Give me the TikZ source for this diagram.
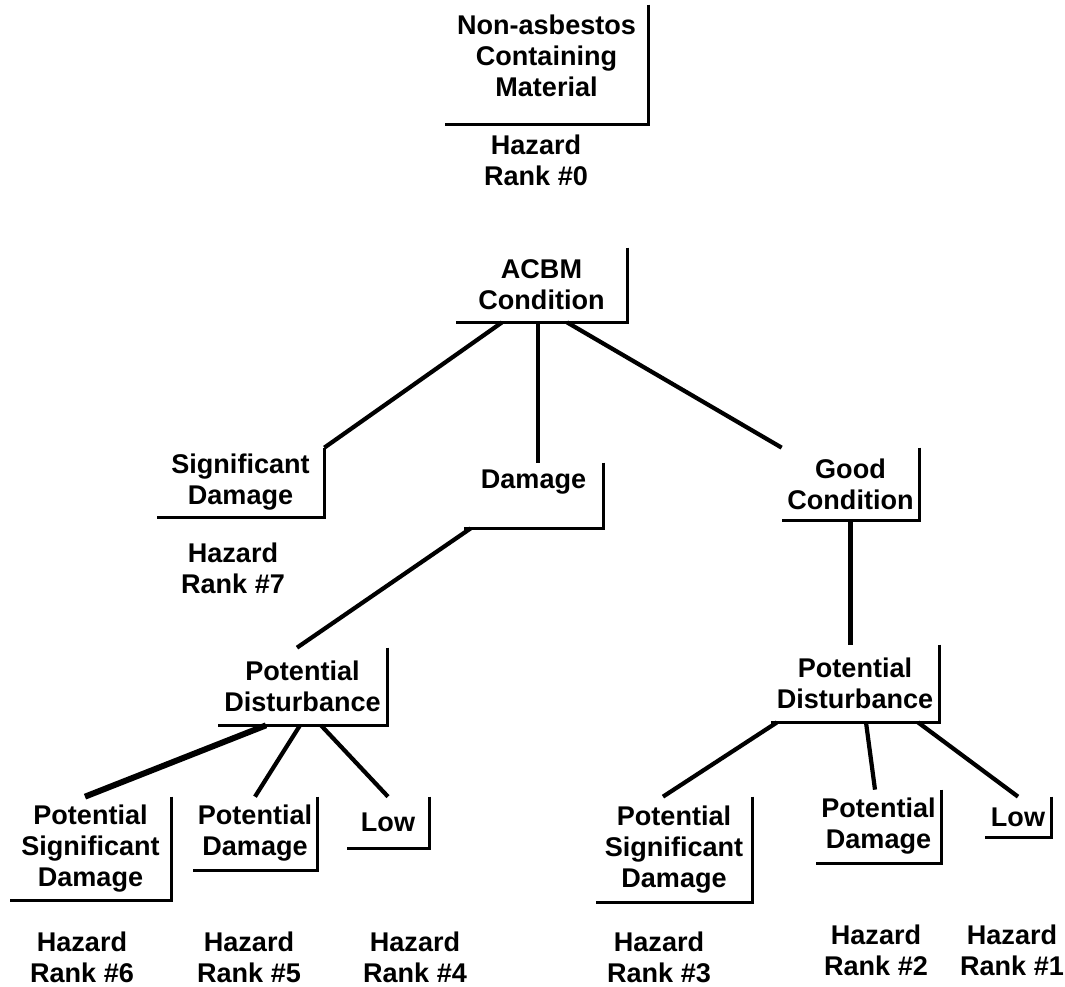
\documentclass[tikz,border=0pt]{standalone}
\usepackage{fontspec}
\setmainfont{Liberation Sans}
\tikzset{
    % Box styles - text with a right and a bottom edge only
    rankbox/.style={
        rectangle,
        inner sep=2pt,
        align=center,
        font=\fontsize{15.4pt}{17.7pt}\selectfont\bfseries
    },
    ranklabel/.style={
        inner sep=0pt,
        align=center,
        font=\fontsize{15.4pt}{17.7pt}\selectfont\bfseries
    },
    bracketline/.style={
        line width=1.7pt,
        line join=miter
    },
    % Connector styles
    branch/.style={
        line width=2.4pt
    },
    heavybranch/.style={
        line width=3.4pt
    }
}
\begin{document}
\begin{tikzpicture}[x=0.02cm, y=-0.02cm]
    \useasboundingbox[fill=white] (0,0) rectangle (1065,987);

    % Top of the tree
    \node[rankbox, minimum width=4.06cm, minimum height=2.38cm, text depth=0.34cm] (nacm) at (546.5,64.5) {Non-asbestos\\Containing\\Material};
    \node[ranklabel] (h0) at (536,160.5) {Hazard\\Rank \#0};

    \node[rankbox, minimum width=3.42cm, minimum height=1.48cm] (acbm) at (541.5,285) {ACBM\\Condition};

    % Condition level
    \node[rankbox, minimum width=3.34cm, minimum height=1.38cm] (sig) at (240.5,482.5) {Significant\\Damage};
    \node[ranklabel] (h7) at (233,568) {Hazard\\Rank \#7};
    \node[rankbox, minimum width=2.78cm, minimum height=1.30cm, text depth=0.64cm] (dam) at (533.5,495.5) {Damage};
    \node[rankbox, minimum width=2.74cm, minimum height=1.44cm] (good) at (850.5,484) {Good\\Condition};

    % Disturbance level
    \node[rankbox, minimum width=3.38cm, minimum height=1.54cm] (pdl) at (302.5,686.5) {Potential\\Disturbance};
    \node[rankbox, minimum width=3.36cm, minimum height=1.54cm] (pdr) at (855,683.5) {Potential\\Disturbance};

    % Bottom row, left
    \node[rankbox, minimum width=3.22cm, minimum height=2.06cm] (psdl) at (90.5,848.5) {Potential\\Significant\\Damage};
    \node[rankbox, minimum width=2.48cm, minimum height=1.46cm] (pdaml) at (255,833.5) {Potential\\Damage};
    \node[rankbox, minimum width=1.64cm, minimum height=1.02cm] (lowl) at (388,822.5) {Low};

    % Bottom row, right
    \node[rankbox, minimum width=3.12cm, minimum height=2.10cm] (psdr) at (674,849.5) {Potential\\Significant\\Damage};
    \node[rankbox, minimum width=2.50cm, minimum height=1.46cm] (pdamr) at (878.5,826.5) {Potential\\Damage};
    \node[rankbox, minimum width=1.32cm, minimum height=0.80cm] (lowr) at (1018,817) {Low};

    % Hazard ranks
    \node[ranklabel] (h6) at (82,957.5) {Hazard\\Rank \#6};
    \node[ranklabel] (h5) at (249,957.5) {Hazard\\Rank \#5};
    \node[ranklabel] (h4) at (415,957.5) {Hazard\\Rank \#4};
    \node[ranklabel] (h3) at (659,957.5) {Hazard\\Rank \#3};
    \node[ranklabel] (h2) at (876,950) {Hazard\\Rank \#2};
    \node[ranklabel] (h1) at (1012,950) {Hazard\\Rank \#1};

    % Right and bottom edges
    \foreach \n in {nacm,acbm,sig,dam,good,pdl,pdr,psdl,pdaml,lowl,psdr,pdamr,lowr}
        \draw[bracketline] (\n.north east) -- (\n.south east) -- (\n.south west);

    % Connectors
    \draw[branch] ([xshift=-0.79cm]acbm.south) -- (sig.north east);
    \draw[branch] ([xshift=-0.07cm]acbm.south) coordinate (ad) -- (ad |- dam.north);
    \draw[branch] ([xshift=0.51cm]acbm.south) -- (good.north west);
    \draw[branch] ([xshift=0.14cm]dam.south west) -- ([xshift=-0.11cm]pdl.north);
    \draw[branch] (good.south) -- (good.south |- pdr.north);

    \draw[heavybranch] ([xshift=-0.73cm]pdl.south) -- ([xshift=-0.11cm]psdl.north);
    \draw[branch] ([xshift=-0.05cm]pdl.south) -- (pdaml.north);
    \draw[branch] ([xshift=0.37cm]pdl.south) -- (lowl.north);

    \draw[branch] ([xshift=-1.56cm]pdr.south) -- ([xshift=-0.22cm]psdr.north);
    \draw[branch] ([xshift=0.22cm]pdr.south) -- ([xshift=-0.07cm]pdamr.north);
    \draw[branch] ([xshift=1.26cm]pdr.south) -- (lowr.north);
\end{tikzpicture}
\end{document}
